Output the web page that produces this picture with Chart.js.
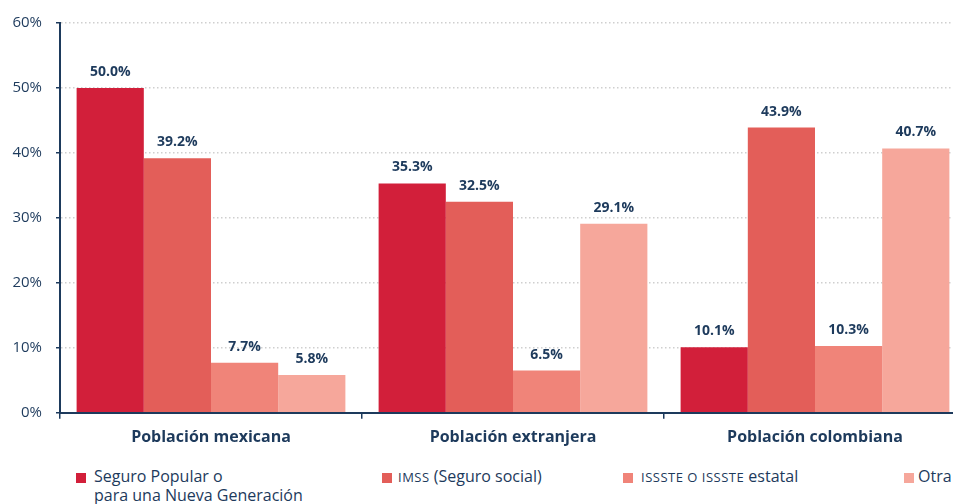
<!DOCTYPE html>
<html><head><meta charset="utf-8">
<script src="https://cdn.jsdelivr.net/npm/chart.js@4"></script>
<style>
html,body{margin:0;padding:0;background:#fff;overflow:hidden;width:953px;height:504px;}
#wrap{position:absolute;left:0;top:0;width:966px;height:459px;}
.lg{position:absolute;font-family:"Open Sans",Lato,sans-serif;font-size:16px;color:#1d3a5c;line-height:19px;white-space:nowrap;}
.sq{position:absolute;width:10px;height:10px;}
.sc{font-size:13px;letter-spacing:0.5px;}
</style></head>
<body>
<div id="wrap"><canvas id="c"></canvas></div>
<div id="legend"></div>
<script>
const categories = ["Población mexicana", "Población extranjera", "Población colombiana"];
const seriesNames = ["Seguro Popular o para una Nueva Generación", "IMSS (Seguro social)", "ISSSTE o ISSSTE estatal", "Otra"];
const seguroPopular = [50.0, 35.3, 10.1];
const imss = [39.2, 32.5, 43.9];
const issste = [7.7, 6.5, 10.3];
const otra = [5.8, 29.1, 40.7];
const yTicks = [0, 10, 20, 30, 40, 50, 60];
const colors = ["#d21f3a", "#e35e59", "#f08479", "#f6a79b"];

const navy = "#1d3a5c";
const font = "'Open Sans', Lato, sans-serif";

const valueLabels = {
  id: "valueLabels",
  afterDatasetsDraw(chart) {
    const ctx = chart.ctx;
    ctx.save();
    ctx.font = "bold 14px " + font;
    ctx.fillStyle = navy;
    ctx.textAlign = "center";
    ctx.textBaseline = "bottom";
    chart.data.datasets.forEach((ds, i) => {
      chart.getDatasetMeta(i).data.forEach((bar, j) => {
        ctx.fillText(ds.data[j].toFixed(1) + "%", bar.x, bar.y - 9);
      });
    });
    ctx.restore();
  }
};

const series = [seguroPopular, imss, issste, otra];
new Chart(document.getElementById("c"), {
  type: "bar",
  data: {
    labels: categories,
    datasets: series.map((d, i) => ({
      label: seriesNames[i],
      data: d,
      backgroundColor: colors[i],
      borderWidth: 0,
      barPercentage: 1,
      categoryPercentage: 0.89
    }))
  },
  options: {
    responsive: true,
    maintainAspectRatio: false,
    animation: false,
    layout: { padding: { top: 14, right: 0, bottom: 3, left: 0 } },
    plugins: { legend: { display: false }, tooltip: { enabled: false } },
    scales: {
      x: {
        grid: { drawOnChartArea: false, tickLength: 6, color: navy, lineWidth: 1.5 },
        border: { color: navy, width: 2 },
        ticks: { color: navy, font: { family: font, size: 16, weight: "bold" }, padding: 9 }
      },
      y: {
        min: 0, max: 60,
        afterBuildTicks(scale) { scale.ticks = yTicks.map(v => ({ value: v })); },
        afterFit(scale) { scale.width = 60; },
        grid: { color: "#cfcfcf", lineWidth: 1.5, tickLength: 4, tickColor: navy, tickBorderDash: [], drawTicks: true },
        border: { color: navy, width: 2, dash: [1.5, 2.5] },
        ticks: { color: navy, font: { family: font, size: 15 }, padding: 14, callback: v => v + "%" }
      }
    }
  },
  plugins: [valueLabels]
});

const legend = document.getElementById("legend");
const items = [
  { sq: 76, tx: 94, html: "Seguro Popular o<br>para una Nueva Generación" },
  { sq: 382, tx: 398, html: "<span class='sc'>IMSS</span> (Seguro social)" },
  { sq: 623, tx: 641, html: "<span class='sc'>ISSSTE O ISSSTE</span> estatal" },
  { sq: 904, tx: 918, html: "Otra" }
];
items.forEach((it, i) => {
  const s = document.createElement("div");
  s.className = "sq"; s.style.left = it.sq + "px"; s.style.top = "473px"; s.style.background = colors[i];
  legend.appendChild(s);
  const t = document.createElement("div");
  t.className = "lg"; t.style.left = it.tx + "px"; t.style.top = "467px"; t.innerHTML = it.html;
  legend.appendChild(t);
});
</script>
</body></html>
